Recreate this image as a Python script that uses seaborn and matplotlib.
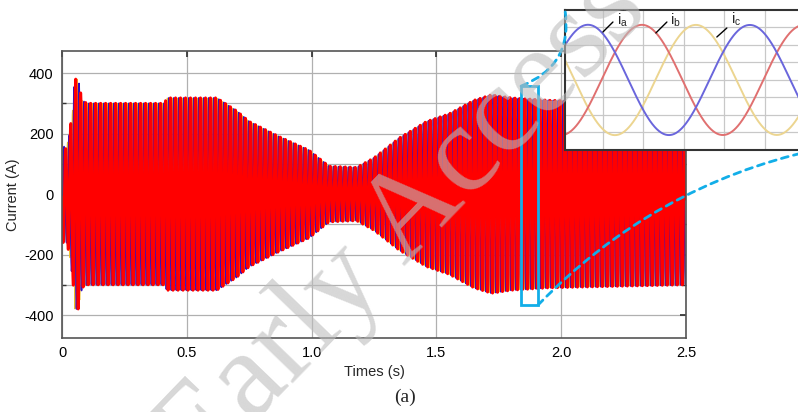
import numpy as np
import pandas as pd
import matplotlib
matplotlib.use("Agg")
import matplotlib.pyplot as plt
import seaborn as sns
from matplotlib.patches import Rectangle, ConnectionPatch

# amplitude envelope of the phase currents (s, A)
env_time = [0.0, 0.015, 0.03, 0.045, 0.05, 0.065, 0.08, 0.10, 0.41, 0.42, 0.62,
            0.70, 0.75, 0.87, 0.99, 1.07, 1.18, 1.25, 1.35, 1.46, 1.55, 1.65,
            1.72, 1.80, 1.95, 2.5]
env_amp = [165, 150, 200, 300, 380, 380, 310, 300, 300, 318, 318,
           275, 240, 190, 145, 92, 88, 120, 185, 240, 265, 310,
           328, 318, 310, 300]
freq = 50.0          # supply frequency (Hz)
phase0 = 0.4075      # phase of i_a (cycles)
phase_names = ["ia", "ib", "ic"]
phase_shift = [0.0, 1 / 3, 2 / 3]

x_ticks = [0, 0.5, 1.0, 1.5, 2.0, 2.5]
x_ticklabels = ["0", "0.5", "1.0", "1.5", "2.0", "2.5"]
y_ticks = [-400, -200, 0, 200, 400]

zoom_window = (1.839, 1.907)   # highlighted interval in main plot
inset_window = (1.84531, 1.87617)


def currents(t):
    amp = np.interp(t, env_time, env_amp)
    return {n: amp * np.cos(2 * np.pi * (freq * t - phase0 - s))
            for n, s in zip(phase_names, phase_shift)}


t = np.linspace(0, 2.5, 40001)
df = pd.DataFrame({"t": t, **currents(t)})

ti = np.linspace(inset_window[0], inset_window[1], 600)
dfi = pd.DataFrame({"t": ti, **currents(ti)})

sns.set_theme(style="white")
plt.rcParams["font.family"] = ["Liberation Sans", "DejaVu Sans"]
plt.rcParams["mathtext.fontset"] = "custom"
plt.rcParams["mathtext.rm"] = "Liberation Sans"
plt.rcParams["axes.unicode_minus"] = False

fig = plt.figure(figsize=(7.98, 4.12), dpi=100)
ax = fig.add_axes([0.0777, 0.1796, 0.782, 0.6966])

main_colors = {"ic": "#f0c020", "ia": "#3010c0", "ib": "#ff0000"}
main_widths = {"ic": 0.6, "ia": 1.2, "ib": 2.1}
for name in ["ic", "ia", "ib"]:
    sns.lineplot(data=df, x="t", y=name, ax=ax, color=main_colors[name],
                 lw=main_widths[name], estimator=None, sort=False)

ax.set_xlim(0, 2.5)
ax.set_ylim(-476, 473)
ax.set_xticks(x_ticks)
ax.set_xticklabels(x_ticklabels)
ax.set_yticks(y_ticks)
ax.set_yticks([-300, -100, 100, 300], minor=True)
ax.grid(True, which="both", color="#b0b0b0", lw=0.9)
ax.tick_params(direction="in", top=True, right=True, length=4, labelsize=10.5,
               colors="#333333", labelcolor="black", pad=6)
ax.tick_params(which="minor", direction="in", left=True, right=True, length=3,
               colors="#333333")
for sp in ax.spines.values():
    sp.set_color("#555555")
    sp.set_linewidth(1.2)
ax.set_xlabel("Times (s)", fontsize=10.5, labelpad=3)
ax.set_ylabel("Current (A)", fontsize=10.5, labelpad=3)

box_color = "#12aee8"
ax.add_patch(Rectangle((zoom_window[0], -367), zoom_window[1] - zoom_window[0], 724,
                       fill=False, edgecolor=box_color, lw=2, zorder=5))

# inset with the zoomed three-phase currents
axi = fig.add_axes([0.708, 0.636, 0.313, 0.3398])
inset_colors = {"ia": "#6a66dc", "ib": "#e07070", "ic": "#ecd590"}
for name in ["ic", "ib", "ia"]:
    sns.lineplot(data=dfi, x="t", y=name, ax=axi, color=inset_colors[name],
                 lw=1.4, estimator=None, sort=False)
axi.set_xlim(*inset_window)
axi.set_ylim(-400, 400)
axi.set_xticks(np.arange(1.85, 1.88, 0.005))
axi.set_yticks(np.arange(-300, 400, 100))
axi.set_xticklabels([])
axi.set_yticklabels([])
axi.set_xlabel("")
axi.set_ylabel("")
axi.tick_params(length=0)
axi.grid(True, color="#c8c8c8", lw=0.9)
for sp in axi.spines.values():
    sp.set_color("#333333")
    sp.set_linewidth(1.5)

labels = [(r"i$_{\rm a}$", (0.208, 0.93), (0.152, 0.843), (0.192, 0.914)),
          (r"i$_{\rm b}$", (0.42, 0.93), (0.364, 0.836), (0.408, 0.914)),
          (r"i$_{\rm c}$", (0.664, 0.936), (0.608, 0.807), (0.648, 0.871))]
for txt, pos, p0, p1 in labels:
    axi.text(pos[0], pos[1], txt, transform=axi.transAxes, fontsize=10.5,
             ha="left", va="center")
    axi.plot([p0[0], p1[0]], [p0[1], p1[1]], transform=axi.transAxes,
             color="black", lw=1)

con1 = ConnectionPatch(xyA=(zoom_window[0], 357), coordsA=ax.transData,
                       xyB=(0, 1), coordsB=axi.transAxes,
                       connectionstyle="arc3,rad=0.4", color=box_color,
                       lw=2, linestyle=(0, (2.5, 2)))
con2 = ConnectionPatch(xyA=(zoom_window[1], -367), coordsA=ax.transData,
                       xyB=(1, 0), coordsB=axi.transAxes,
                       connectionstyle="arc3,rad=-0.15", color=box_color,
                       lw=2, linestyle=(0, (2.5, 2)))
fig.add_artist(con1)
fig.add_artist(con2)

fig.text(0.507, 0.035, "(a)", fontsize=14, family="Liberation Serif",
         ha="center", va="center")

# watermark
fig.text(0.505, 0.455, "Early Access", fontsize=90, family="Liberation Serif",
         color="#bdbdbd", alpha=0.6, rotation=46, ha="center", va="center",
         rotation_mode="anchor", zorder=10)

fig.savefig("out.png", dpi=100)
